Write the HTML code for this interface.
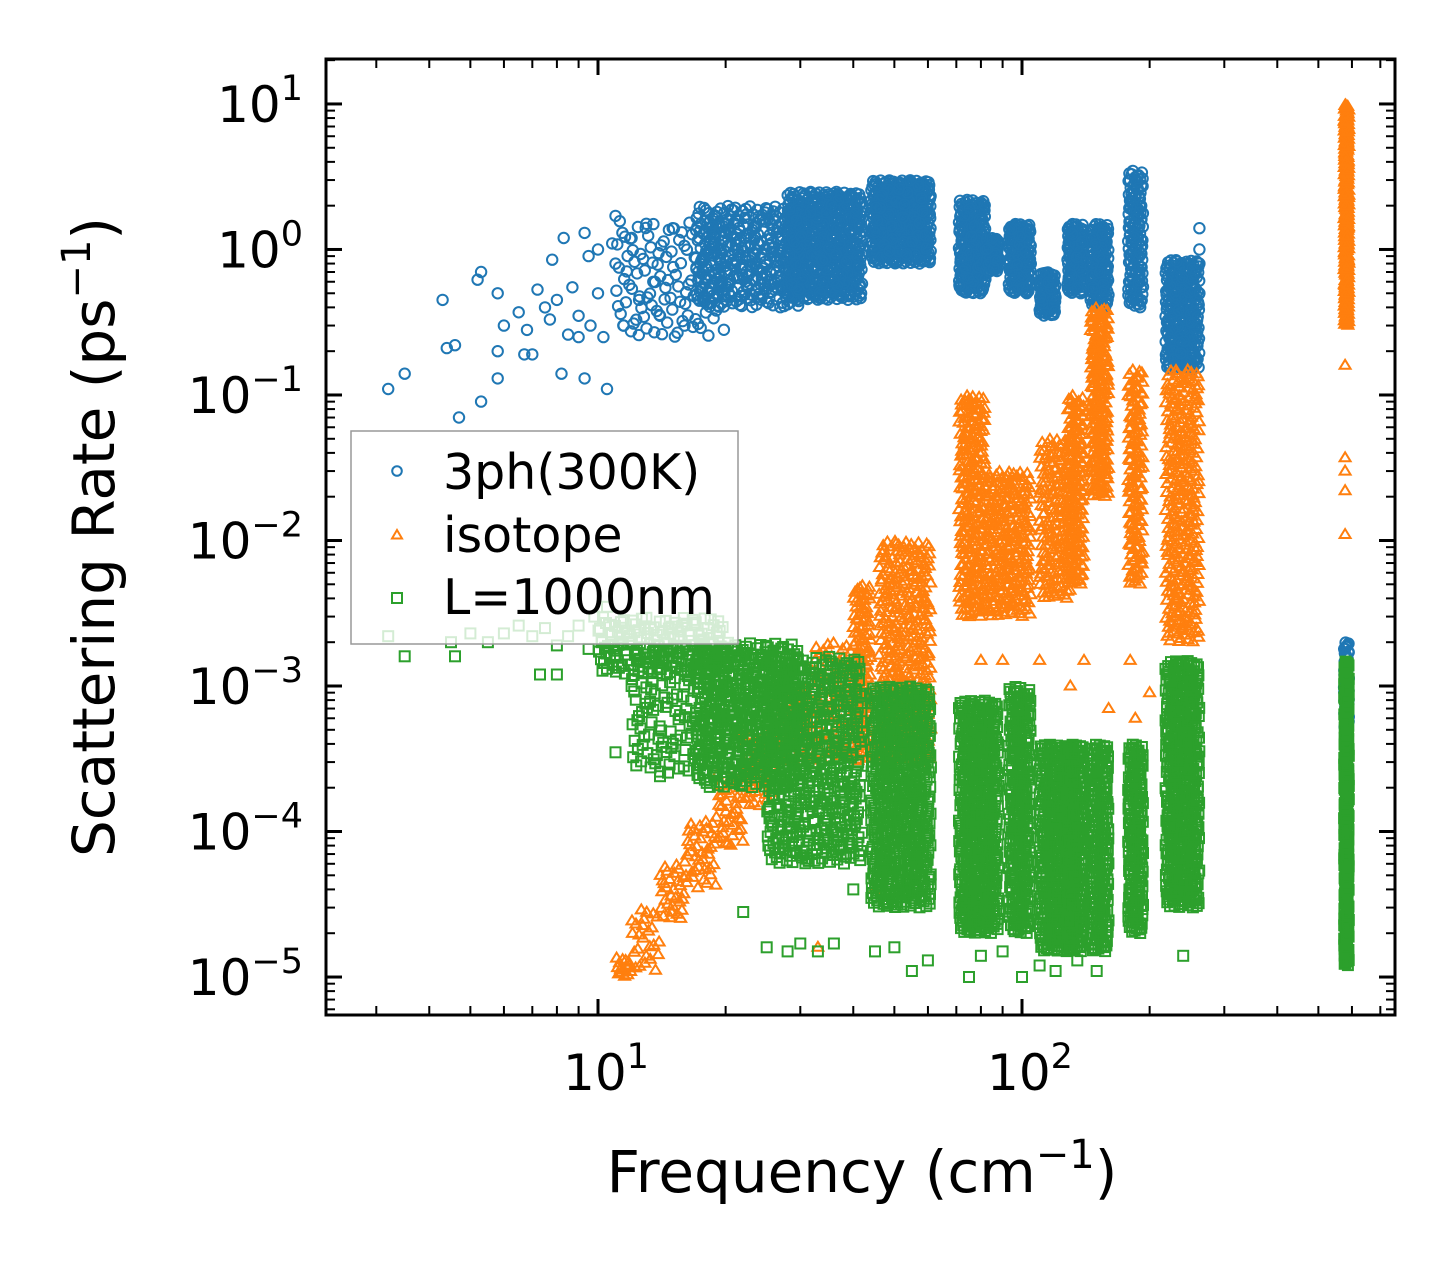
<!DOCTYPE html>
<html><head><meta charset="utf-8"><style>
html,body{margin:0;padding:0;background:#fff;}
svg{display:block;font-family:"DejaVu Sans","Liberation Sans",sans-serif;}
</style></head><body>
<svg id="chart" width="1455" height="1265" viewBox="0 0 1455 1265" xmlns="http://www.w3.org/2000/svg">
<rect width="1455" height="1265" fill="#fff"/>
<defs><clipPath id="clip"><rect x="326" y="59" width="1069" height="956"/></clipPath></defs>
<g id="marks" clip-path="url(#clip)"></g>
<g id="axes"></g>
<g>
<rect x="351" y="431" width="387" height="213" fill="#fff" fill-opacity="0.8" stroke="#999" stroke-width="1.5"/>
<circle cx="397" cy="471" r="4.8" fill="none" stroke="#1f77b4" stroke-width="2"/>
<text x="443" y="489" font-size="49">3ph(300K)</text>
<path d="M397,530 L402,538.5 L392,538.5 Z" fill="none" stroke="#ff7f0e" stroke-width="2"/>
<text x="443" y="552" font-size="49">isotope</text>
<rect x="392" y="593" width="10" height="10" fill="none" stroke="#2ca02c" stroke-width="2"/>
<text x="443" y="614" font-size="49">L=1000nm</text>
</g>
<text x="862" y="1192" font-size="58" text-anchor="middle">Frequency (cm<tspan font-size="40" dy="-24">−1</tspan><tspan dy="24">)</tspan></text>
<text transform="translate(114,537) rotate(-90)" font-size="58" text-anchor="middle">Scattering Rate (ps<tspan font-size="40" dy="-24">−1</tspan><tspan dy="24">)</tspan></text>
</svg>
<script>
// ---- data ----
const xTickValues=[10,100];
const xTickLabels=["10","10"];
const xTickExp=["1","2"];
const yTickValues=[10,1,0.1,0.01,0.001,1e-4,1e-5];
const yTickBase=["10","10","10","10","10","10","10"];
const yTickExp=["1","0","−1","−2","−3","−4","−5"];
// isolated points [freq, rate]
const blueFreq=[3.2,3.5,4.3,4.4,4.6,4.7,5.2,5.3,5.3,5.8,5.8,5.8,6,6.5,6.7,6.8,7,7.2,7.5,7.7,7.8,8,8.2,8.3,8.5,8.7,9,9,9.3,9.3,9.5,9.6,10,10,10.3,10.5,10.8,11,11,11.5,12,12.5,13,13.5,14,15,16,262,262,262,262];
const blueRate=[0.11,0.14,0.45,0.21,0.22,0.07,0.62,0.7,0.09,0.5,0.2,0.13,0.3,0.37,0.19,0.28,0.19,0.53,0.4,0.33,0.85,0.45,0.14,1.2,0.26,0.55,0.25,0.35,1.3,0.13,0.9,0.3,1.0,0.5,0.25,0.11,1.1,0.8,1.7,0.3,1.2,0.45,1.5,0.6,0.35,1.4,0.3,1.4,1.0,0.8,0.5];
const greenFreq=[3.2,3.5,4.5,4.6,5,5.5,6,6.5,7,7.3,7.5,8,8,8.5,9,9.5,9.8,10.2,10.5,11,12,14,17,19,22,25,28,30,33,36,40,45,50,55,60,75,80,90,100,110,120,135,150,240];
const greenRate=[2.2e-3,1.6e-3,2e-3,1.6e-3,2.3e-3,2e-3,2.3e-3,2.6e-3,2.2e-3,1.2e-3,2.5e-3,1.9e-3,1.2e-3,2.2e-3,2.6e-3,1.8e-3,3e-3,2e-3,3.5e-3,3.5e-4,1e-3,2.4e-4,6e-4,2.5e-4,2.8e-5,1.6e-5,1.5e-5,1.7e-5,1.5e-5,1.7e-5,4e-5,1.5e-5,1.6e-5,1.1e-5,1.3e-5,1e-5,1.4e-5,1.5e-5,1e-5,1.2e-5,1.1e-5,1.3e-5,1.1e-5,1.4e-5];
const orangeFreq=[33,45,60,75,80,90,100,110,130,140,160,180,185,200,230,240,578,578,578,578,578];
const orangeRate=[1.6e-5,4e-5,5e-4,3e-3,1.5e-3,1.5e-3,7e-4,1.5e-3,1e-3,1.5e-3,7e-4,1.5e-3,6e-4,9e-4,4e-3,2.5e-3,0.037,0.03,0.022,0.011,0.16];
// dense clusters: frequency range, rate range, number of phonon points
const blueFLo=[11,17,28,44,71,82,93,110,128,145,178,218,575];
const blueFHi=[20,30,42,61,82,88,105,120,140,160,193,262,590];
const blueRLo=[0.25,0.4,0.45,0.8,0.5,0.7,0.5,0.35,0.5,0.4,0.4,0.15,5e-4];
const blueRHi=[1.6,2.0,2.5,3.0,2.2,1.2,1.5,0.7,1.5,1.5,3.5,0.85,2e-3];
const blueN=[110,350,600,450,220,80,160,90,130,140,140,280,70];
const orFLo=[11,12,14,16,19,22,26,32,40,46,71,82,110,128,145,178,218,575];
const orFHi=[12,14,16,19,22,26,32,40,44,61,82,105,132,140,160,193,262,590];
const orRLo=[1e-5,1.1e-5,2.5e-5,4e-5,8e-5,1.5e-4,3e-4,3e-4,3e-4,3e-4,3e-3,3e-3,4e-3,5e-3,2e-2,5e-3,2e-3,0.3];
const orRHi=[1.4e-5,3e-5,6e-5,1.2e-4,2.5e-4,5e-4,1e-3,2e-3,5e-3,1e-2,0.1,0.03,0.05,0.1,0.4,0.15,0.15,10];
const orN=[15,25,30,40,40,50,60,80,120,350,220,260,180,150,200,140,300,250];
const grFLo=[10,12,17,25,44,71,93,110,128,145,178,218,575];
const grFHi=[20,25,30,42,61,88,105,132,140,160,193,262,590];
const grRLo=[1.2e-3,2.5e-4,2e-4,6e-5,3e-5,2e-5,2e-5,1.5e-5,1.5e-5,1.5e-5,2e-5,3e-5,1.2e-5];
const grRHi=[3e-3,1.8e-3,2e-3,1.6e-3,1e-3,8e-4,1e-3,4e-4,4e-4,4e-4,4e-4,1.5e-3,1.5e-3];
const grN=[150,200,400,500,600,500,250,400,250,250,200,450,250];

// ---- scales ----
const X0=326,X1=1395,Y0=59,Y1=1015;
const LXmin=0.3585,LXmax=2.8797,LYmin=-5.261,LYmax=1.309;
function sx(f){return X0+(Math.log10(f)-LXmin)/(LXmax-LXmin)*(X1-X0);}
function sy(r){return Y1-(Math.log10(r)-LYmin)/(LYmax-LYmin)*(Y1-Y0);}
const NS="http://www.w3.org/2000/svg";
const marks=document.getElementById('marks');
const axes=document.getElementById('axes');
const COL={blue:"#1f77b4",orange:"#ff7f0e",green:"#2ca02c"};
function mk(series,f,r){
  const x=sx(f),y=sy(r);let el;
  if(series==='blue'){el=document.createElementNS(NS,'circle');el.setAttribute('cx',x.toFixed(1));el.setAttribute('cy',y.toFixed(1));el.setAttribute('r','5.2');}
  else if(series==='orange'){el=document.createElementNS(NS,'path');el.setAttribute('d',`M${x.toFixed(1)},${(y-5.5).toFixed(1)}l5.5,9h-11z`);}
  else{el=document.createElementNS(NS,'rect');el.setAttribute('x',(x-5).toFixed(1));el.setAttribute('y',(y-5).toFixed(1));el.setAttribute('width','10');el.setAttribute('height','10');}
  el.setAttribute('fill','none');el.setAttribute('stroke',COL[series]);el.setAttribute('stroke-width','2');
  
  
  marks.appendChild(el);
}
function halton(i,b){let f=1,r=0;while(i>0){f/=b;r+=f*(i%b);i=Math.floor(i/b);}return r;}
function cluster(series,fl,fh,rl,rh,n,seed){
  for(let i=1;i<=n;i++){
    const u=halton(i+seed,2), v=halton(i+seed,3);
    const f=Math.pow(10,Math.log10(fl)+u*(Math.log10(fh)-Math.log10(fl)));
    const r=Math.pow(10,Math.log10(rl)+v*(Math.log10(rh)-Math.log10(rl)));
    mk(series,f,r);
  }
}
blueFLo.forEach((_,i)=>cluster('blue',blueFLo[i],blueFHi[i],blueRLo[i],blueRHi[i],blueN[i],i*17));
blueFreq.forEach((f,i)=>mk('blue',f,blueRate[i]));
orFLo.forEach((_,i)=>cluster('orange',orFLo[i],orFHi[i],orRLo[i],orRHi[i],orN[i],i*13));
orangeFreq.forEach((f,i)=>mk('orange',f,orangeRate[i]));
grFLo.forEach((_,i)=>cluster('green',grFLo[i],grFHi[i],grRLo[i],grRHi[i],grN[i],i*11));
greenFreq.forEach((f,i)=>mk('green',f,greenRate[i]));

// ---- axes ----
function line(x1,y1,x2,y2,w,name){const l=document.createElementNS(NS,'line');l.setAttribute('x1',x1);l.setAttribute('y1',y1);l.setAttribute('x2',x2);l.setAttribute('y2',y2);l.setAttribute('stroke','#000');l.setAttribute('stroke-width',w);


axes.appendChild(l);}
const fr=document.createElementNS(NS,'rect');fr.setAttribute('x',X0);fr.setAttribute('y',Y0);fr.setAttribute('width',X1-X0);fr.setAttribute('height',Y1-Y0);fr.setAttribute('fill','none');fr.setAttribute('stroke','#000');fr.setAttribute('stroke-width','3');


axes.appendChild(fr);
for(let d=0;d<=3;d++)for(let m=1;m<10;m++){const f=m*Math.pow(10,d);const x=sx(f);if(x<=X0+1||x>=X1-1)continue;const L=m===1?16:9,w=m===1?3:2;line(x,Y1,x,Y1-L,w,'x-tick');line(x,Y0,x,Y0+L,w,'x-tick-top');}
for(let d=-6;d<=1;d++)for(let m=1;m<10;m++){const r=m*Math.pow(10,d);const y=sy(r);if(y<=Y0+1||y>=Y1-1)continue;const L=m===1?16:9,w=m===1?3:2;line(X0,y,X0+L,y,w,'y-tick');line(X1,y,X1-L,y,w,'y-tick-right');}
xTickValues.forEach((v,i)=>{const t=document.createElementNS(NS,'text');t.setAttribute('x',sx(v)+8);t.setAttribute('y',1090);t.setAttribute('font-size','50');t.setAttribute('text-anchor','middle');


t.innerHTML=xTickLabels[i]+'<tspan font-size="35" dy="-22">'+xTickExp[i]+'</tspan>';axes.appendChild(t);});
yTickValues.forEach((v,i)=>{const t=document.createElementNS(NS,'text');t.setAttribute('x',303);t.setAttribute('y',sy(v)+18);t.setAttribute('font-size','50');t.setAttribute('text-anchor','end');


t.innerHTML=yTickBase[i]+'<tspan font-size="35" dy="-22">'+yTickExp[i]+'</tspan>';axes.appendChild(t);});
</script>
</body></html>
